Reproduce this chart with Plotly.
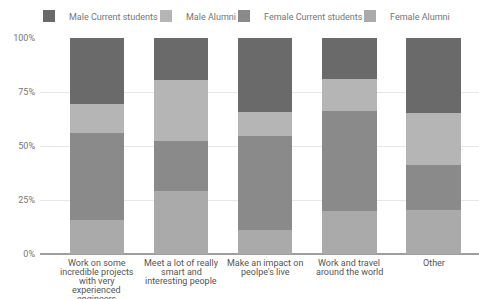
import plotly.graph_objects as go

categories = [
    "Work on some\nincredible projects\nwith very\nexperienced\nengineers",
    "Meet a lot of really\nsmart and\ninteresting people",
    "Make an impact on\npeolpe's live",
    "Work and travel\naround the world",
    "Other",
]
female_alumni = [15.6, 29.2, 10.9, 19.7, 20.5]
female_current = [40.4, 23.3, 43.7, 46.5, 20.7]
male_alumni = [13.3, 28.1, 11.1, 14.8, 23.9]
male_current = [30.7, 19.4, 34.3, 19.0, 34.9]
y_ticks = [0, 25, 50, 75, 100]
y_tick_labels = ["0%", "25%", "50%", "75%", "100%"]

W, H = 479, 299
L, R, T, B = 40, 0, 38, 45
PW = W - L - R

x_keys = [c.replace("\n", " ") for c in categories]

series = [
    ("Female Alumni", female_alumni, "#aaaaaa", "legend5", 390),
    ("Female Current students", female_current, "#8a8a8a", "legend4", 264),
    ("Male Alumni", male_alumni, "#b5b5b5", "legend3", 186),
    ("Male Current students", male_current, "#6a6a6a", "legend2", 69),
]

fig = go.Figure()
for name, vals, color, leg, _ in series:
    fig.add_trace(go.Bar(
        x=x_keys, y=vals, name=name, legend=leg, showlegend=True,
        marker=dict(color=color, line=dict(width=0)),
        hoverinfo="skip",
    ))

legend_font = dict(family="Roboto", size=9, color="#757575")
layout_legends = {}
for name, vals, color, leg, text_px in series:
    box_px = max(text_px - 40, L)
    indent = (text_px - 40) - box_px
    layout_legends[leg] = dict(
        x=(box_px - L) / PW, xanchor="left",
        y=1 + (T - 16) / (H - T - B), yanchor="middle",
        orientation="h", font=legend_font, bgcolor="rgba(0,0,0,0)",
        borderwidth=0, itemwidth=30, indentation=indent,
    )

annotations = []
for key, label in zip(x_keys, categories):
    for j, line in enumerate(label.split("\n")):
        annotations.append(dict(
            x=key, y=0, xref="x", yref="y", text=line, showarrow=False,
            yanchor="middle", xanchor="center", yshift=-(9.3 + 9 * j),
            font=dict(family="Roboto", size=9, color="#555555"),
        ))

fig.update_layout(
    width=W, height=H,
    margin=dict(l=L, r=R, t=T, b=B, pad=0, autoexpand=False),
    barmode="stack", bargap=0.353,
    paper_bgcolor="white", plot_bgcolor="white",
    font=dict(family="Roboto", size=9, color="#757575"),
    annotations=annotations,
    showlegend=True,
    **layout_legends,
)
fig.update_xaxes(
    type="category", range=[-0.675, 4.539], showticklabels=False,
    showgrid=False, zeroline=False, showline=False, ticks="",
)
fig.update_yaxes(
    range=[0, 100], tickmode="array", tickvals=y_ticks, ticktext=y_tick_labels,
    showgrid=True, gridcolor="#e6e6e6", gridwidth=1,
    zeroline=True, zerolinecolor="#9e9e9e", zerolinewidth=2,
    showline=False, ticks="", ticklabelstandoff=4,
    tickfont=dict(family="Roboto", size=9, color="#757575"),
)

fig.write_html(
    "out.html",
    config={"displayModeBar": False},
    post_script="document.body.style.margin='0';document.body.style.overflow='hidden';",
)
